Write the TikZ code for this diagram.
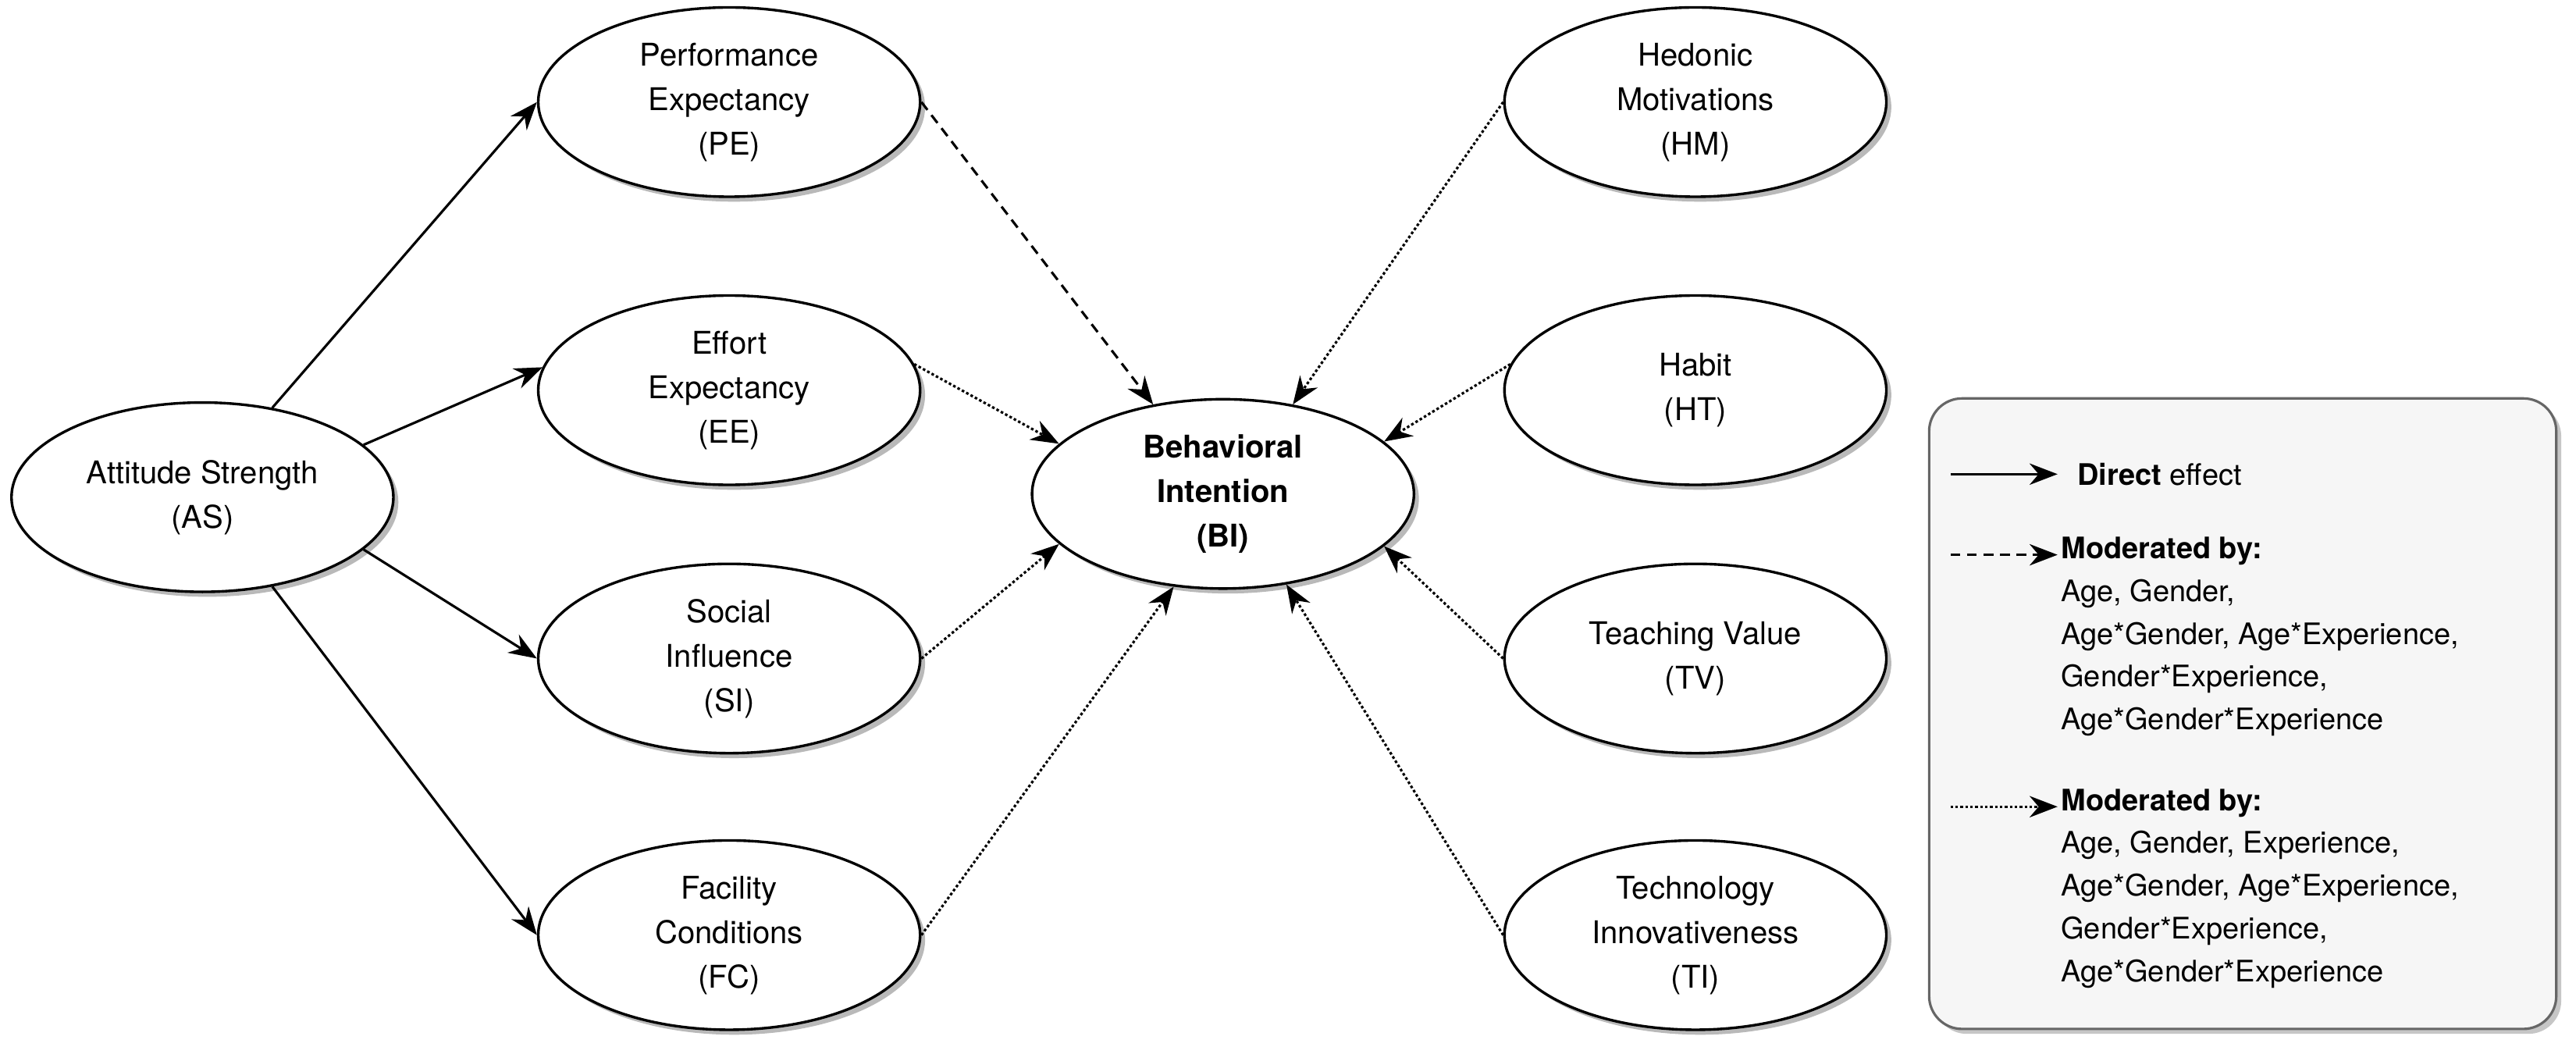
\documentclass[tikz,border=0pt]{standalone}
\usepackage{fontspec}
\setmainfont{TeX Gyre Heros}
\usetikzlibrary{shapes.geometric,arrows.meta,shadows}
\begin{document}
\begin{tikzpicture}[x=1pt,y=-1pt,
  el/.style={ellipse,draw,line width=1.6pt,fill=white,minimum width=232pt,minimum height=115pt,inner sep=0pt,align=center,font=\fontsize{19}{27}\selectfont,
    drop shadow={shadow xshift=3pt,shadow yshift=-3pt,fill=gray!55,opacity=1}},
  ar/.style={line width=1.5pt,-{Stealth[length=17pt,width=13pt]}},
  da/.style={ar,dash pattern=on 6pt off 4pt},
  do/.style={ar,dash pattern=on 1.6pt off 1.4pt},
  lt/.style={anchor=west,inner sep=0pt,align=left,font=\fontsize{18}{26}\selectfont}]
\useasboundingbox (0,0) rectangle (1565,640);
\node[el] (AS) at (123,302) {Attitude Strength\\(AS)};
\node[el] (PE) at (443,62) {Performance\\Expectancy\\(PE)};
\node[el] (EE) at (443,237) {Effort\\Expectancy\\(EE)};
\node[el] (SI) at (443,400) {Social\\Influence\\(SI)};
\node[el] (FC) at (443,568) {Facility\\Conditions\\(FC)};
\node[el] (BI) at (743,300) {\textbf{Behavioral}\\\textbf{Intention}\\\textbf{(BI)}};
\node[el] (HM) at (1030,62) {Hedonic\\Motivations\\(HM)};
\node[el] (HT) at (1030,237) {Habit\\(HT)};
\node[el] (TV) at (1030,400) {Teaching Value\\(TV)};
\node[el] (TI) at (1030,568) {Technology\\Innovativeness\\(TI)};
\draw[ar] (AS.52) -- (PE.west);
\draw[ar] (AS.18) -- (EE.173);
\draw[ar] (AS.-18) -- (SI.west);
\draw[ar] (AS.-52) -- (FC.west);
\draw[da] (PE.east) -- (BI.128);
\draw[do] (EE.8) -- (BI.163);
\draw[do] (SI.east) -- (BI.197);
\draw[do] (FC.east) -- (BI.242);
\draw[do] (HM.west) -- (BI.52);
\draw[do] (HT.172) -- (BI.18);
\draw[do] (TV.west) -- (BI.-18);
\draw[do] (TI.west) -- (BI.-55);
\node[draw=gray!80!black,line width=1.5pt,fill=gray!7,rounded corners=20pt,minimum width=381pt,minimum height=383pt,
  drop shadow={shadow xshift=3pt,shadow yshift=-3pt,fill=gray!45,opacity=1}] (LG) at (1362.5,433.5) {};
\coordinate (a1) at (1185,288); \coordinate (b1) at (1250,288);
\coordinate (a2) at (1185,337); \coordinate (b2) at (1250,337);
\coordinate (a3) at (1185,490); \coordinate (b3) at (1250,490);
\draw[ar] (a1) -- (b1);
\draw[da] (a2) -- (b2);
\draw[do] (a3) -- (b3);
\node[lt] (t1) at (1262,288) {\textbf{Direct} effect};
\node[lt,anchor=north west] (t2) at (1252,326) {\textbf{Moderated by:}\\Age, Gender,\\Age*Gender, Age*Experience,\\Gender*Experience,\\Age*Gender*Experience};
\node[lt,anchor=north west] (t3) at (1252,479) {\textbf{Moderated by:}\\Age, Gender, Experience,\\Age*Gender, Age*Experience,\\Gender*Experience,\\Age*Gender*Experience};
\end{tikzpicture}
\end{document}
